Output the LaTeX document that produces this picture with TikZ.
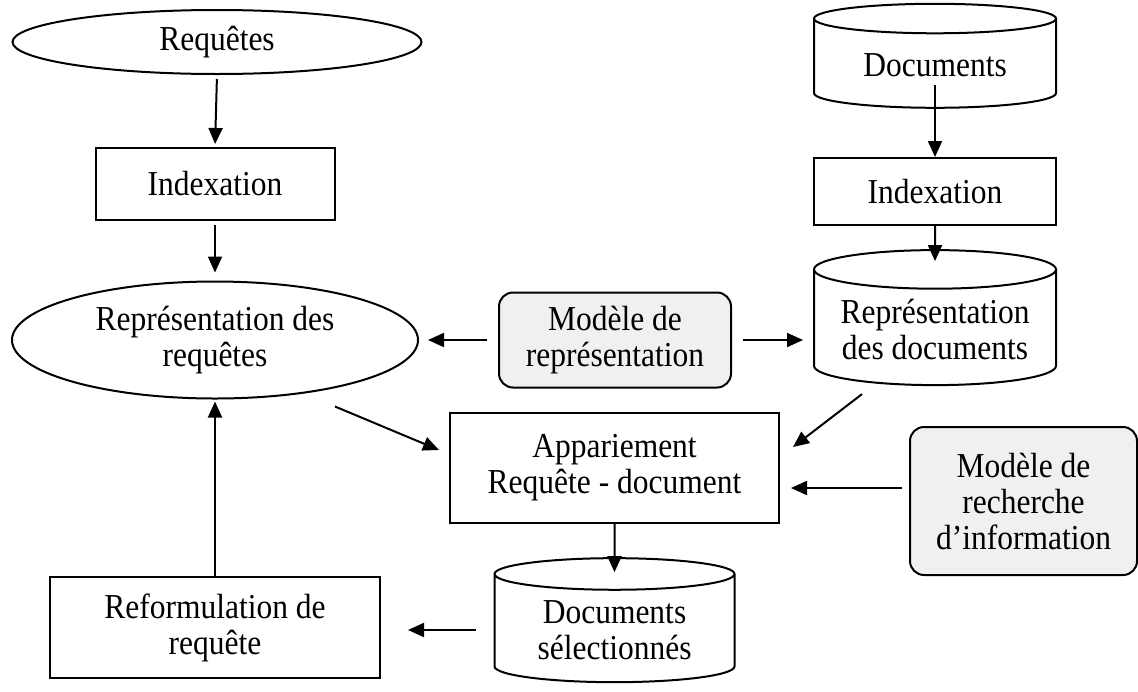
\documentclass[tikz,border=0pt]{standalone}
\usepackage{fontspec}
\setmainfont{Liberation Serif}[FakeStretch=0.9]
\usetikzlibrary{shapes.geometric,arrows.meta,positioning}

\begin{document}
\begin{tikzpicture}[x=0.5pt,y=-0.5pt,
  every node/.style={font=\fontsize{17.5}{18}\selectfont, align=center, line width=1pt, inner sep=1pt},
  ovalnode/.style={ellipse, draw},
  boxnode/.style={rectangle, draw},
  cylnode/.style={cylinder, shape border rotate=90, aspect=0.2, draw},
  modelnode/.style={rectangle, rounded corners=7pt, draw, fill=gray!12},
  arr/.style={-{Triangle[length=8pt,width=7pt]}, line width=1pt}
]
\useasboundingbox (0,0) rectangle (1138,691);
% Requetes side
\node[ovalnode, minimum width=204.5pt, minimum height=32pt] (req) at (217,42) {Requêtes};
\node[boxnode, minimum width=119.5pt, minimum height=36pt] (idxq) at (215,184) {Indexation};
\node[ovalnode, minimum width=203pt, minimum height=58.5pt] (repq) at (215,340) {Représentation des\\requêtes};
% Documents side
\node[cylnode, minimum width=121pt, minimum height=52pt] (docs) at (935,65) {Documents};
\node[boxnode, minimum width=121pt, minimum height=33.5pt] (idxd) at (935,191.5) {Indexation};
\node[cylnode, minimum width=121pt, minimum height=67.5pt] (repd) at (935,329.5) {Représentation\\des documents};
% Models
\node[modelnode, minimum width=116pt, minimum height=47.5pt] (modrep) at (615,340) {Modèle de\\représentation};
\node[modelnode, minimum width=113.5pt, minimum height=74pt] (modrech) at (1023.5,501) {Modèle de\\recherche\\d’information};
% Matching and results
\node[boxnode, minimum width=164.5pt, minimum height=55pt] (app) at (614.5,468) {Appariement\\Requête - document};
\node[cylnode, minimum width=120pt, minimum height=62pt] (docsel) at (614.5,630) {Documents\\sélectionnés};
\node[boxnode, minimum width=165pt, minimum height=50.5pt] (reform) at (215,627.5) {Reformulation de\\requête};
% Connectors
\draw[arr, shorten <=2pt, shorten >=1.5pt] (req.south) -- (idxq.north);
\draw[arr, shorten <=2pt, shorten >=4pt] (idxq.south) -- (repq.north);
\draw[arr] ([yshift=12pt]docs.south) -- (idxd.north);
\draw[arr] (idxd.south) -- ([yshift=-6pt]repd.north);
\draw[arr, shorten <=5.5pt, shorten >=4.5pt] (modrep.west) -- (repq.east);
\draw[arr, shorten <=5.5pt, shorten >=5pt] (modrep.east) -- (modrep.east -| repd.west);
\draw[arr] ([xshift=60pt,yshift=-3.5pt]repq.south) -- ([xshift=-5pt,yshift=9pt]app.west);
\draw[arr] ([xshift=-36.5pt,yshift=-4pt]repd.south) -- ([xshift=6.5pt,yshift=10.5pt]app.east);
\draw[arr] ([xshift=-3.5pt,yshift=6.5pt]modrech.west) -- ([xshift=5.5pt,yshift=-10pt]app.east);
\draw[arr] (app.south) -- ([yshift=-7.5pt]docsel.north);
\draw[arr, shorten <=9pt, shorten >=13.5pt] (docsel.west) -- (docsel.west -| reform.east);
\draw[arr, shorten >=1pt] (reform.north) -- (repq.south);
\end{tikzpicture}
\end{document}
